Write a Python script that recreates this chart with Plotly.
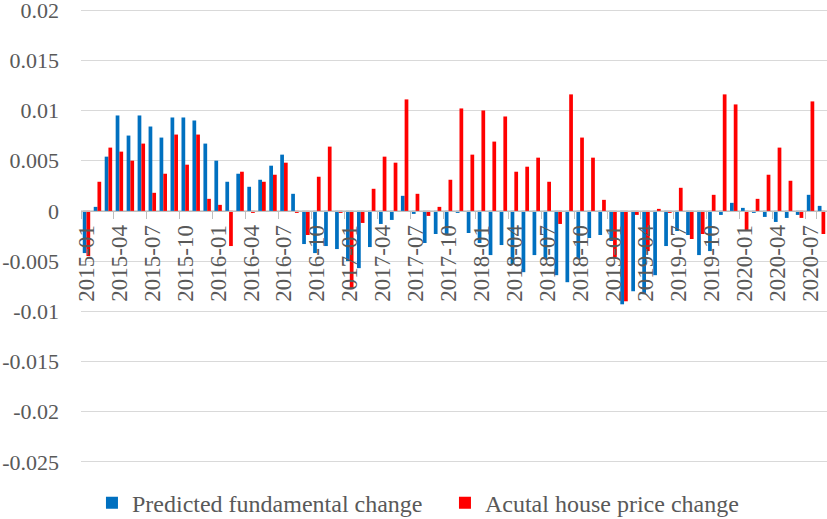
import plotly.graph_objects as go

months = [f"{y}-{m:02d}" for y in range(2015, 2021) for m in range(1, 13)][:68]

predicted = [
    -0.0042, 0.0004, 0.0054, 0.0095, 0.0075, 0.0095, 0.0084, 0.0073, 0.0093, 0.0093,
    0.0090, 0.0067, 0.0050, 0.0029, 0.0037, 0.0024, 0.0031, 0.0045, 0.0056, 0.0017,
    -0.0033, -0.0042, -0.0035, -0.0038, -0.0050, -0.0057, -0.0036, -0.0013, -0.0009, 0.0015,
    -0.0003, -0.0032, -0.0023, -0.0023, -0.0002, -0.0022, -0.0032, -0.0044, -0.0034, -0.0053,
    -0.0061, -0.0044, -0.0048, -0.0064, -0.0071, -0.0048, -0.0027, -0.0024, -0.0030, -0.0093,
    -0.0080, -0.0083, -0.0064, -0.0035, -0.0020, -0.0024, -0.0044, -0.0040, -0.0004, 0.0008,
    0.0003, -0.0002, -0.0006, -0.0011, -0.0007, -0.0004, 0.0016, 0.0005,
]

actual = [
    -0.0045, 0.0029, 0.0063, 0.0059, 0.0050, 0.0067, 0.0018, 0.0037, 0.0076, 0.0046,
    0.0076, 0.0012, 0.0006, -0.0035, 0.0039, -0.0002, 0.0029, 0.0036, 0.0048, -0.0002,
    -0.0024, 0.0034, 0.0064, -0.0002, -0.0078, -0.0012, 0.0022, 0.0054, 0.0048, 0.0111,
    0.0017, -0.0005, 0.0004, 0.0031, 0.0102, 0.0056, 0.0100, 0.0069, 0.0094, 0.0039,
    0.0044, 0.0053, 0.0029, -0.0013, 0.0116, 0.0073, 0.0053, 0.0011, -0.0046, -0.0090,
    -0.0004, -0.0040, 0.0002, -0.0002, 0.0023, -0.0028, -0.0023, 0.0016, 0.0116, 0.0106,
    -0.0019, 0.0012, 0.0036, 0.0063, 0.0030, -0.0007, 0.0109, -0.0023,
]

tick_labels = months[::3]
y_ticks = [0.02, 0.015, 0.01, 0.005, 0, -0.005, -0.01, -0.015, -0.02, -0.025]
y_tick_text = ["0.02", "0.015", "0.01", "0.005", "0", "-0.005", "-0.01", "-0.015", "-0.02", "-0.025"]

FONT = "Times New Roman, Liberation Serif, serif"
GRAY = "#595959"

fig = go.Figure()
fig.add_trace(go.Bar(x=months, y=predicted, name="Predicted fundamental change",
                     marker=dict(color="#0070C0", line=dict(width=0))))
fig.add_trace(go.Bar(x=months, y=actual, name="Acutal house price change",
                     marker=dict(color="#FF0000", line=dict(width=0))))

ymin, ymax = -0.0252, 0.0202
fig.update_layout(
    width=827, height=519,
    margin=dict(l=81, r=0, t=8, b=55, autoexpand=False),
    plot_bgcolor="white", paper_bgcolor="white",
    barmode="group", bargap=0.32, bargroupgap=0,
    font=dict(family=FONT, color=GRAY),
    legend=dict(orientation="h", x=0.0147, xanchor="left", y=-0.086, yanchor="middle",
                font=dict(family=FONT, size=24, color=GRAY), traceorder="normal",
                itemwidth=30, entrywidth=308, entrywidthmode="pixels"),
    xaxis=dict(type="category", categoryorder="array", categoryarray=months,
               tickmode="array", tickvals=tick_labels, ticktext=tick_labels,
               tickangle=-90, tickfont=dict(family=FONT, size=23, color=GRAY),
               anchor="free", position=(0 - ymin) / (ymax - ymin),
               showline=True, linecolor="#BFBFBF", linewidth=1,
               ticks="outside", ticklen=7, tickcolor="#BFBFBF", tickson="boundaries",
               showgrid=False, ticklabelstandoff=4, ticklabeloverflow="allow"),
    yaxis=dict(range=[ymin, ymax], tickmode="array", tickvals=y_ticks, ticktext=y_tick_text,
               tickfont=dict(family=FONT, size=22, color=GRAY),
               showgrid=True, gridcolor="#D9D9D9", gridwidth=1,
               zeroline=False, showline=False, ticks="", ticklabelstandoff=21,
               ticklabeloverflow="allow"),
)

fig.write_html("out.html", config={"displayModeBar": False},
               post_script="document.body.style.margin='0';document.body.style.padding='0';")
